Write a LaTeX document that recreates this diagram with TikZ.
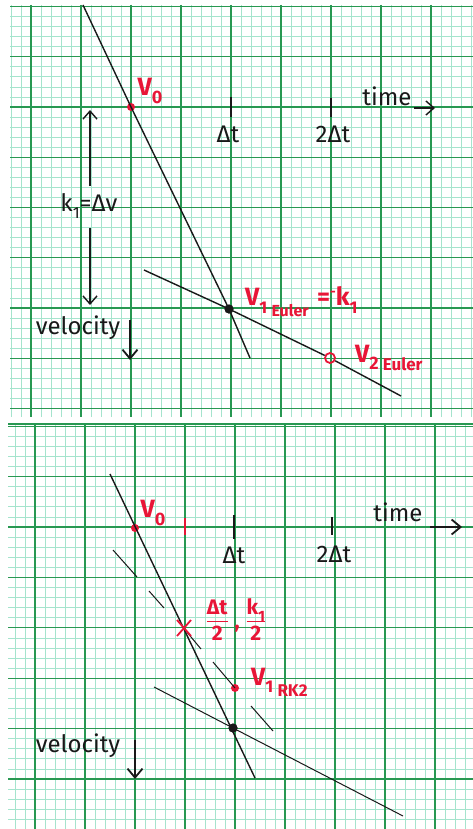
\documentclass[tikz,border=0pt]{standalone}
\usepackage{fontspec}
\setmainfont{Fira Sans}
\usetikzlibrary{arrows.meta,calc}
\definecolor{gmajor}{RGB}{40,152,82}
\definecolor{gminor}{RGB}{165,228,205}
\definecolor{ink}{RGB}{25,25,25}
\definecolor{redink}{RGB}{232,22,55}
\newcommand\lowsub[2][14]{\raisebox{-0.3em}{\fontsize{#1}{#1}\selectfont #2}}
\newcommand\handfrac[2]{\begin{tabular}{@{}c@{}}#1\\[-1pt]\hline\rule{0pt}{18pt}#2\end{tabular}}
\begin{document}
\begin{tikzpicture}[x=1pt,y=-1pt,
  minorline/.style={gminor,line width=0.7pt},
  majorline/.style={gmajor,line width=1.2pt},
  axisline/.style={gmajor,line width=2pt},
  pen/.style={ink,line width=1.4pt},
  thinpen/.style={ink,line width=1pt},
  lbl/.style={ink,font=\fontsize{24}{26}\selectfont,inner sep=0pt},
  rlbl/.style={redink,font=\fontsize{25}{27}\selectfont\bfseries,inner sep=0pt},
  dotb/.style={circle,fill=ink,inner sep=0pt,minimum size=9pt},
  dotr/.style={circle,fill=redink,inner sep=0pt,minimum size=8pt},
  ringr/.style={circle,draw=redink,line width=1.8pt,inner sep=0pt,minimum size=10pt},
  tickmark/.style={ink,line width=1.6pt},
  barb/.style={-{Straight Barb[length=8pt,width=14pt]},ink,line width=1.4pt},
  bigbarb/.style={-{Straight Barb[length=9pt,width=15pt]},ink,line width=1.8pt}
]
\fill[white] (0,0) rectangle (473,829);
\useasboundingbox (0,0) rectangle (473,829);

% ---------- top panel grid ----------
\begin{scope}
\clip (10,5) rectangle (473,417);
\foreach \i in {0,...,46} \draw[minorline] ({11+10*\i},5) -- ({11+10*\i},417);
\foreach \j in {0,...,41} \draw[minorline] (10,{6.5+10.05*\j}) -- (473,{6.5+10.05*\j});
\foreach \i in {0,...,8} \draw[majorline] ({31+50*\i},5) -- ({31+50*\i},417);
\foreach \j in {0,...,8} \draw[majorline] (10,{6.5+50.25*\j}) -- (473,{6.5+50.25*\j});
\draw[axisline] (10,107) -- (473,107);
\draw[axisline] (131,5) -- (131,417);
\end{scope}

% ---------- bottom panel grid ----------
\begin{scope}
\clip (8,423) rectangle (473,829);
\foreach \i in {0,...,46} \draw[minorline] ({5+10*\i},423) -- ({5+10*\i},829);
\foreach \j in {-11,...,31} \draw[minorline] (8,{527+10.08*\j}) -- (473,{527+10.08*\j});
\foreach \i in {0,...,8} \draw[majorline] ({35+50*\i},423) -- ({35+50*\i},829);
\foreach \j in {-2,...,6} \draw[majorline] (8,{527+50.4*\j}) -- (473,{527+50.4*\j});
\draw[majorline] (8,424) -- (473,424);
\draw[axisline] (8,527) -- (473,527);
\draw[axisline] (135,423) -- (135,829);
\end{scope}

% ================= TOP PANEL =================
\coordinate (tA) at (83,5);
\coordinate (tB) at (250,358);
\node[dotr] (v0) at (131,107) {};
\node[dotb] (v1) at (229,309) {};
\node[ringr] (v2) at (330,358) {};
\coordinate (sA) at (144,270);
\coordinate (sB) at (401,396);
\draw[pen] (tA) -- (v0.center) -- (v1.center) -- (tB);
\draw[pen] (sA) -- (v1.center) -- (v2) -- (sB);
\node[dotb] at (v1) {};

% ticks and axis labels
\coordinate (tk1a) at (231,97);  \coordinate (tk1b) at (231,117);
\coordinate (tk2a) at (331,98);  \coordinate (tk2b) at (331,117);
\draw[tickmark] (tk1a) -- (tk1b);
\draw[tickmark] (tk2a) -- (tk2b);
\node[lbl] (dt1) at (228,134) {Δt};
\node[lbl] (dt2) at (333,134) {2Δt};
\node[lbl] (time1) at (387,96) {time};
\coordinate (ta1) at (414,108);
\coordinate (ta2) at (435,108);
\draw[barb] (ta1) -- (ta2);

% k1 = dv
\node[lbl] (k1) at (89,206) {k\lowsub[16]{1}=Δv};
\coordinate (kuA) at (90,186);
\coordinate (kuB) at (90,110);
\coordinate (kdA) at (90,228);
\coordinate (kdB) at (90,305);
\draw[barb] (kuA) -- (kuB);
\draw[barb] (kdA) -- (kdB);

% velocity
\node[lbl] (vel1) at (78,328) {velocity};
\coordinate (va1) at (130,320);
\coordinate (vb1) at (130,360);
\draw[bigbarb] (va1) -- (vb1);

% red labels
\node[rlbl] (v0lbl) at (150,91) {V\lowsub[18]{0}};
\node[rlbl,anchor=west] (v1lbl) at (245,302) {V\lowsub[17]{1}\,\raisebox{-0.45em}{\fontsize{16}{16}\selectfont Euler}\,\,=\raisebox{0.35em}{\fontsize{14}{14}\selectfont -}k\lowsub[17]{1}};
\node[rlbl,anchor=west] (v2lbl) at (355,358) {V\lowsub[18]{2}\,\raisebox{-0.35em}{\fontsize{17}{17}\selectfont Euler}};

% ================= BOTTOM PANEL =================
\coordinate (bA) at (110,474);
\coordinate (bB) at (255,778);
\node[dotr] (w0) at (135,528) {};
\coordinate (xm) at (184,628);
\node[dotb] (w1) at (233,728) {};
\node[dotr] (rk) at (235,688) {};
\draw[pen] (bA) -- (bB);
\coordinate (cA) at (154,687);
\coordinate (cB) at (403,816);
\draw[thinpen] (cA) -- (w1.center) -- (cB);
\node[dotb] at (w1) {};

% dashed slope line through the midpoint
\draw[thinpen] (113,550) -- (137,577);
\draw[thinpen] (149,591) -- (164,608);
\draw[thinpen] (186,631) -- (201,649);
\draw[thinpen] (213,662) -- (rk.center);
\draw[thinpen] (251,706) -- (273,731);

% red cross at midpoint
\draw[redink,line width=1.8pt] ($(xm)+(-7,-8)$) -- ($(xm)+(7,8)$);
\draw[redink,line width=1.8pt] ($(xm)+(-7,8)$) -- ($(xm)+(7,-8)$);
\node[redink,inner sep=0pt,font=\fontsize{21}{23}\selectfont\bfseries] (xlbl) at (236,623) {\setlength\arrayrulewidth{1.8pt}\handfrac{Δt}{2}\,\,,\,\,\handfrac{k\lowsub[15]{1}}{2}};

% ticks
\draw[redink,line width=1.8pt] (185,518) -- (185,535);
\draw[tickmark] (234,515) -- (234,539);
\draw[tickmark] (332,517) -- (332,535);
\node[lbl] (dt3) at (234,555) {Δt};
\node[lbl] (dt4) at (334,554) {2Δt};
\node[lbl] (time2) at (398,512) {time};
\coordinate (tc1) at (430,527);
\coordinate (tc2) at (462,527);
\draw[bigbarb] (tc1) -- (tc2);

% velocity
\node[lbl] (vel2) at (78,746) {velocity};
\coordinate (va2) at (135,740);
\coordinate (vb2) at (135,779);
\draw[bigbarb] (va2) -- (vb2);

% red labels
\node[rlbl] (w0lbl) at (153,513) {V\lowsub[18]{0}};
\node[rlbl,anchor=west] (rklbl) at (251,682) {V\lowsub[17]{1}\,\raisebox{-0.45em}{\fontsize{17}{17}\selectfont RK2}};
\end{tikzpicture}
\end{document}
